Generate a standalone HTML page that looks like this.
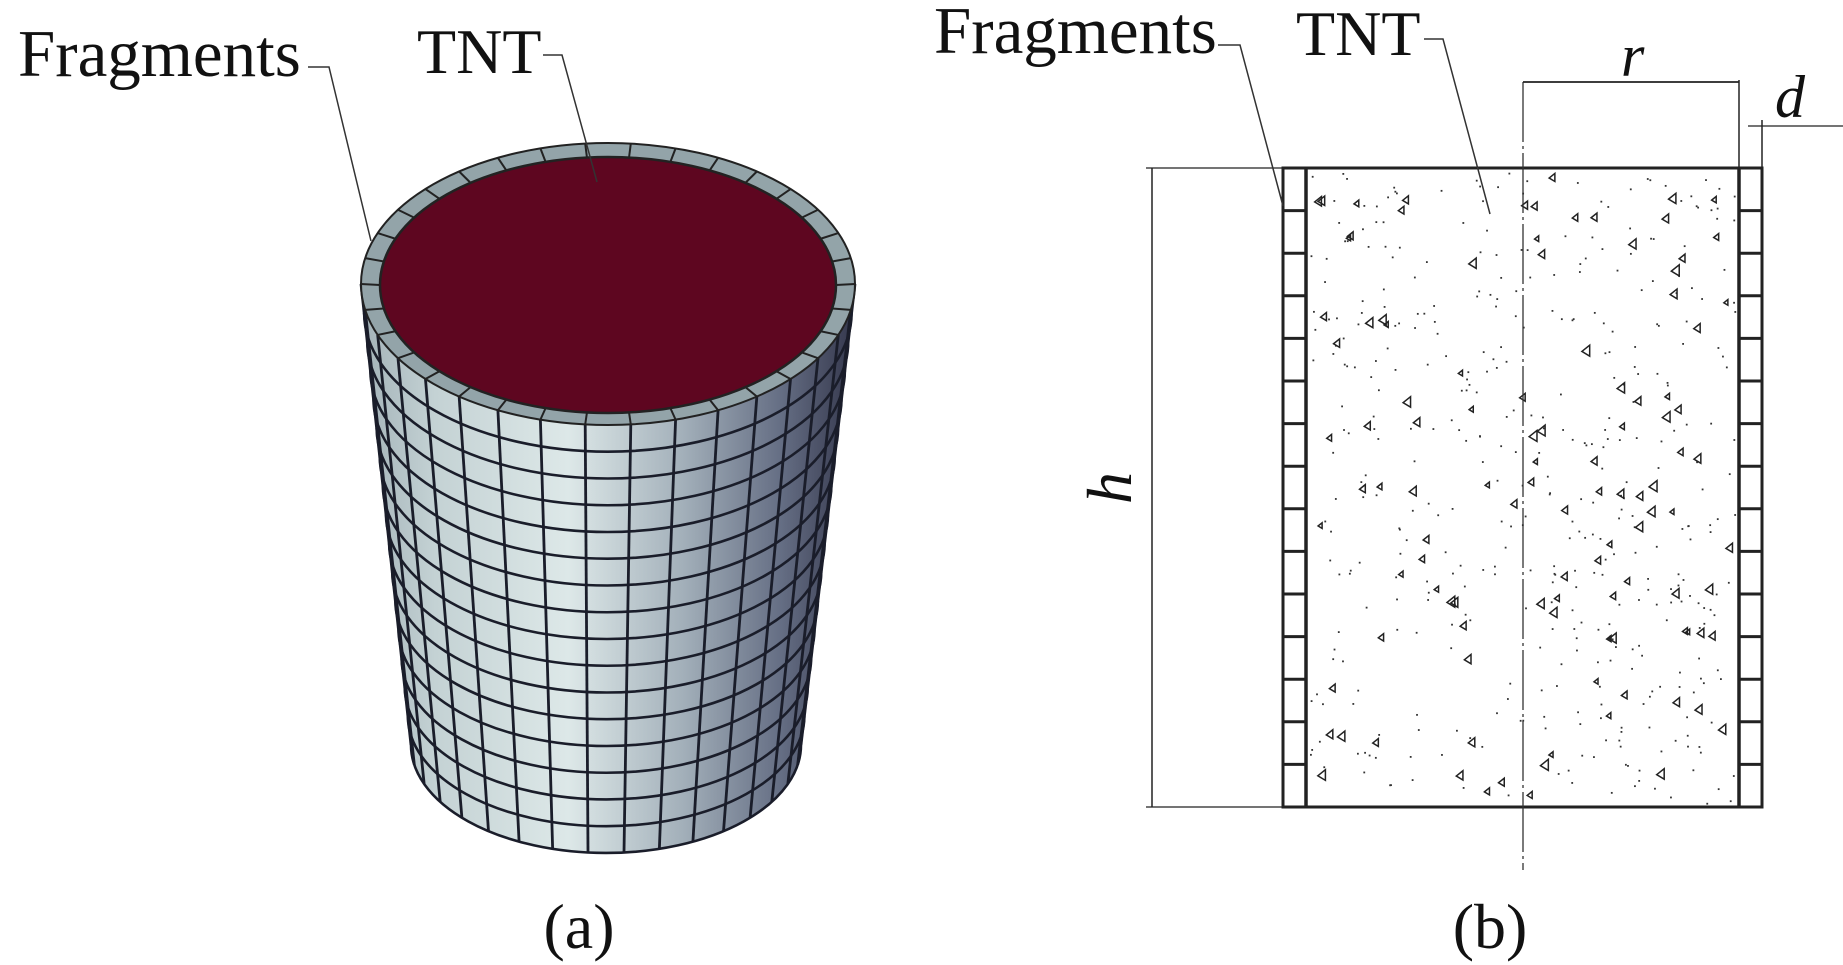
<!DOCTYPE html>
<html><head><meta charset="utf-8"><style>
html,body{margin:0;padding:0;background:#fff;}
svg{display:block;}
text{font-family:"Liberation Serif",serif;fill:#111;}
</style></head><body>
<svg id="s" width="1843" height="965" viewBox="0 0 1843 965" xmlns="http://www.w3.org/2000/svg">
<defs>
<linearGradient id="g" x1="0" x2="1" y1="0" y2="0">
<stop offset="0" stop-color="#a3b2b8"/>
<stop offset="0.15" stop-color="#c4d2d4"/>
<stop offset="0.42" stop-color="#dde8e8"/>
<stop offset="0.65" stop-color="#a3b0ba"/>
<stop offset="0.85" stop-color="#656e84"/>
<stop offset="1" stop-color="#34374c"/>
</linearGradient>
</defs>
<g id="cyl"></g>
<g id="rect"></g>
<text x="18" y="76" font-size="67">Fragments</text>
<text x="417" y="73" font-size="64">TNT</text>
<polyline points="308,67 329,67 371,241" fill="none" stroke="#333" stroke-width="1.5"/>
<polyline points="543,55 562,55 597,182" fill="none" stroke="#333" stroke-width="1.5"/>
<text x="579" y="948" font-size="64" text-anchor="middle">(a)</text>
<text x="934" y="53" font-size="67">Fragments</text>
<text x="1296" y="55" font-size="64">TNT</text>
<polyline points="1218,45 1240,45 1283,206" fill="none" stroke="#333" stroke-width="1.5"/>
<polyline points="1424,39 1443,39 1490,214" fill="none" stroke="#333" stroke-width="1.5"/>
<text x="1490" y="948" font-size="64" text-anchor="middle">(b)</text>
<text x="1621" y="76" font-size="60" font-style="italic">r</text>
<text x="1775" y="117" font-size="60" font-style="italic">d</text>
<text x="0" y="0" font-size="64" font-style="italic" transform="translate(1131,488) rotate(-90)" text-anchor="middle">h</text>
</svg>
<script>
var NS="http://www.w3.org/2000/svg";
function el(p,t,a){var e=document.createElementNS(NS,t);for(var k in a)e.setAttribute(k,a[k]);p.appendChild(e);return e;}
var c=document.getElementById('cyl');
var T={cx:608,cy:284,rx:247,ry:141}, B={cx:606,cy:745,rx:195,ry:108};
function L(t){return {cx:T.cx+(B.cx-T.cx)*t,cy:T.cy+(B.cy-T.cy)*t,rx:T.rx+(B.rx-T.rx)*t,ry:T.ry+(B.ry-T.ry)*t};}
el(c,'path',{d:'M'+(T.cx-T.rx)+','+T.cy+' L'+(B.cx-B.rx)+','+B.cy+' A'+B.rx+','+B.ry+' 0 0 0 '+(B.cx+B.rx)+','+B.cy+' L'+(T.cx+T.rx)+','+T.cy+' Z',fill:'url(#g)',stroke:'#333','stroke-width':1.5});
var rows=16, N=34;
for(var i=1;i<=rows;i++){var e=L(i/rows);var d='M'+(e.cx-e.rx)+','+e.cy+' A'+e.rx+','+e.ry+' 0 0 0 '+(e.cx+e.rx)+','+e.cy;
el(c,'path',{d:d,fill:'none',stroke:'#1a1d2a','stroke-width':2.6});}
for(var j=0;j<=N/2;j++){var th=Math.PI*j/(N/2);var a=L(0),b=L(1);
el(c,'line',{x1:a.cx+a.rx*Math.cos(th),y1:a.cy+a.ry*Math.sin(th),x2:b.cx+b.rx*Math.cos(th),y2:b.cy+b.ry*Math.sin(th),stroke:'#1a1d2a','stroke-width':2.8});}
el(c,'ellipse',{cx:T.cx,cy:T.cy,rx:T.rx,ry:T.ry,fill:'#93a4a9',stroke:'#222','stroke-width':2});
var I={cx:608,cy:285,rx:228,ry:128};
for(var j=0;j<N;j++){var th=2*Math.PI*j/N;
el(c,'line',{x1:T.cx+T.rx*Math.cos(th),y1:T.cy+T.ry*Math.sin(th),x2:I.cx+I.rx*Math.cos(th),y2:I.cy+I.ry*Math.sin(th),stroke:'#222','stroke-width':2});}
el(c,'ellipse',{cx:I.cx,cy:I.cy,rx:I.rx,ry:I.ry,fill:'#5e0620',stroke:'#222','stroke-width':2.5});
var r=document.getElementById('rect');
var seed=7;function rnd(){seed=(seed*16807)%2147483647;return seed/2147483647;}
for(var k=0;k<420;k++){el(r,'rect',{x:1310+rnd()*426,y:172+rnd()*632,width:1.8,height:1.8,fill:'#333'});}
for(var k=0;k<110;k++){var x=1312+rnd()*420,y=176+rnd()*625,s=4+rnd()*4;
el(r,'path',{d:'M'+x+','+y+' l'+s+','+(-s*0.8)+' l0,'+(s*1.4)+' z',fill:'none',stroke:'#222','stroke-width':1.5});}
el(r,'rect',{x:1283,y:168,width:479,height:639,fill:'none',stroke:'#222','stroke-width':3});
el(r,'line',{x1:1306,y1:168,x2:1306,y2:807,stroke:'#222','stroke-width':3.5});
el(r,'line',{x1:1739,y1:168,x2:1739,y2:807,stroke:'#222','stroke-width':3.5});
for(var k=1;k<15;k++){var y=168+k*639/15;
el(r,'line',{x1:1283,y1:y,x2:1306,y2:y,stroke:'#222','stroke-width':3});
el(r,'line',{x1:1739,y1:y,x2:1762,y2:y,stroke:'#222','stroke-width':3});}
el(r,'line',{x1:1523,y1:82,x2:1523,y2:870,stroke:'#333','stroke-width':1.3,'stroke-dasharray':'60,4,3,4'});
el(r,'line',{x1:1523,y1:82,x2:1739,y2:82,stroke:'#222','stroke-width':1.8});
el(r,'line',{x1:1739,y1:80,x2:1739,y2:168,stroke:'#222','stroke-width':1.5});
el(r,'line',{x1:1748,y1:126,x2:1843,y2:126,stroke:'#222','stroke-width':1.3});
el(r,'line',{x1:1762,y1:120,x2:1762,y2:168,stroke:'#222','stroke-width':1.5});
el(r,'line',{x1:1152,y1:168,x2:1152,y2:807,stroke:'#222','stroke-width':1.5});
el(r,'line',{x1:1146,y1:168,x2:1283,y2:168,stroke:'#222','stroke-width':1.3});
el(r,'line',{x1:1146,y1:807,x2:1283,y2:807,stroke:'#222','stroke-width':1.3});
</script>
</body></html>
